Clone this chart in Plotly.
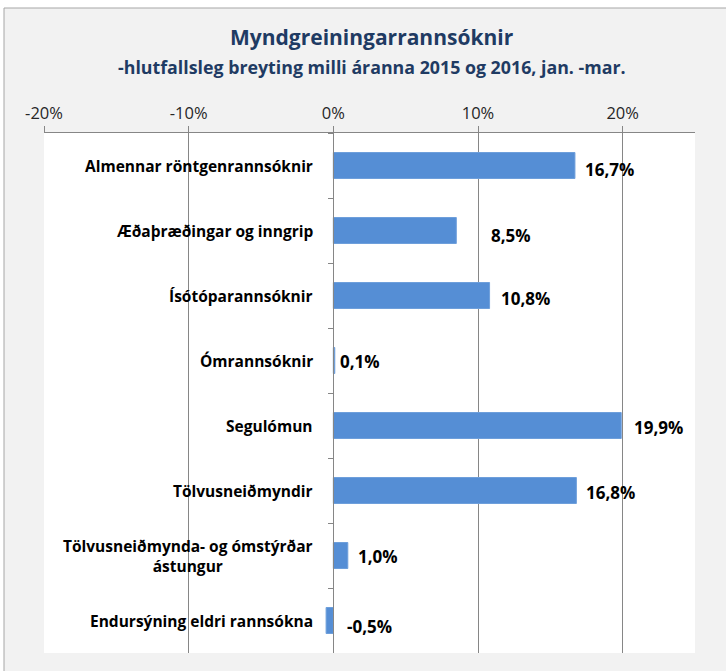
import plotly.graph_objects as go

# Categories (top to bottom) and relative change 2015 -> 2016, jan.-mar. (%)
categories = [
    "Almennar röntgenrannsóknir",
    "Æðaþræðingar og inngrip",
    "Ísótóparannsóknir",
    "Ómrannsóknir",
    "Segulómun",
    "Tölvusneiðmyndir",
    "Tölvusneiðmynda- og ómstýrðar<br>ástungur",
    "Endursýning eldri rannsókna",
]
change_pct = [16.7, 8.5, 10.8, 0.1, 19.9, 16.8, 1.0, -0.5]
value_labels = ["16,7%", "8,5%", "10,8%", "0,1%", "19,9%", "16,8%", "1,0%", "-0,5%"]

tick_values = [-20, -10, 0, 10, 20]
tick_labels = ["-20%", "-10%", "0%", "10%", "20%"]

title_text = "Myndgreiningarrannsóknir"
subtitle_text = "-hlutfallsleg breyting milli áranna 2015 og 2016, jan. -mar."

# Pixel nudges for the data labels (x, y), as placed by hand in the chart
label_nudge_x = [8, 33, 9, 3, 11, 8, 8, 12]
label_nudge_y = [-4, -5, -3, -1, -2, -2, -1, -6]

FONT = "Open Sans"
W, H = 726, 671
ML, MR, MT, MB = 44, 31, 133, 18
X_MIN, X_MAX = -20, 25

fig = go.Figure(
    go.Bar(
        x=change_pct,
        y=categories,
        orientation="h",
        width=0.4,
        marker=dict(color="#558ED5", line=dict(color="#6E9FDB", width=1)),
        hoverinfo="skip",
    )
)

# Outer chart frame (light grey panel) and white plot area
pw, ph = W - ML - MR, H - MT - MB
fig.add_shape(
    type="rect", xref="paper", yref="paper", layer="below",
    x0=(4 - ML) / pw, x1=(W + 10 - ML) / pw,
    y0=-(MB + 10) / ph, y1=1 + (MT - 8) / ph,
    fillcolor="#F2F2F2", line=dict(color="#A6A6A6", width=1),
)
fig.add_shape(
    type="rect", xref="paper", yref="paper", layer="below",
    x0=0, x1=1, y0=0, y1=1,
    fillcolor="white", line=dict(width=0),
)

# Category labels sit left of the vertical axis at 0 %
for cat in categories:
    fig.add_annotation(
        x=0, y=cat, xref="x", yref="y",
        text=f"<b>{cat}</b>", showarrow=False,
        xanchor="right", align="center", xshift=-18,
        font=dict(family=FONT, size=15.5, color="#000000"),
    )

# Data labels
for cat, v, lab, dx, dy in zip(categories, change_pct, value_labels, label_nudge_x, label_nudge_y):
    fig.add_annotation(
        x=max(v, 0), y=cat, xref="x", yref="y",
        text=f"<b>{lab}</b>", showarrow=False,
        xanchor="left", xshift=dx, yshift=dy,
        font=dict(family=FONT, size=17, color="#000000"),
    )

# Title and subtitle
fig.add_annotation(
    x=0.5, y=1 + (MT - 37) / ph, xref="paper", yref="paper",
    text=f"<b>{title_text}</b>", showarrow=False, yanchor="middle",
    xshift=(372 - (ML + pw / 2)),
    font=dict(family=FONT, size=21, color="#1F3B63"),
)
fig.add_annotation(
    x=0.5, y=1 + (MT - 67) / ph, xref="paper", yref="paper",
    text=f"<b>{subtitle_text}</b>", showarrow=False, yanchor="middle",
    xshift=(372 - (ML + pw / 2)),
    font=dict(family=FONT, size=17.8, color="#1F3B63"),
)

fig.update_layout(
    width=W, height=H,
    margin=dict(l=ML, r=MR, t=MT, b=MB, pad=0),
    paper_bgcolor="white",
    plot_bgcolor="rgba(0,0,0,0)",
    showlegend=False,
    bargap=0.6,
    xaxis=dict(
        side="top",
        range=[X_MIN, X_MAX],
        tickvals=tick_values,
        ticktext=tick_labels,
        tickfont=dict(family=FONT, size=16.5, color="#262626"),
        ticks="outside", ticklen=6, tickcolor="#868686",
        showgrid=True, gridcolor="#868686", gridwidth=1,
        showline=True, linecolor="#868686", linewidth=1,
        zeroline=False,
        fixedrange=True,
    ),
    yaxis=dict(
        type="category",
        autorange="reversed",
        anchor="free",
        position=(0 - X_MIN) / (X_MAX - X_MIN),
        showticklabels=False,
        ticks="outside", ticklen=5, tickcolor="#868686",
        tickson="boundaries",
        showline=True, linecolor="#868686", linewidth=1,
        showgrid=False, zeroline=False,
        fixedrange=True,
    ),
)

fig.write_html("out.html")
